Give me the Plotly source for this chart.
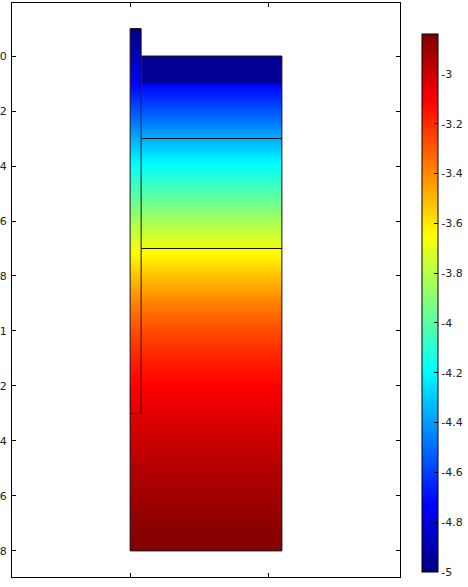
import plotly.graph_objects as go

# ---- data ----
# field value at depth knots (y, downward)
depth_knots = [-0.1, 0.0, 0.1, 0.2, 0.3, 0.4, 0.5, 0.6, 0.7, 0.8, 0.9,
               1.0, 1.1, 1.2, 1.3, 1.4, 1.5, 1.6, 1.7, 1.8]
knot_values = [-5.0, -4.87, -4.73, -4.55, -4.36, -4.18, -4.01, -3.84,
               -3.67, -3.52, -3.38, -3.27, -3.18, -3.11, -3.05, -3.00,
               -2.95, -2.91, -2.87, -2.84]
top_layer_value = -4.96          # uniform value of the upper layer (0 .. 0.1)

# geometry
well_x = [0.0, 0.04]             # narrow column
block_x = [0.04, 0.55]           # main block (right of column)
full_x = [0.0, 0.55]
well_top, well_bottom = -0.1, 1.3
block_top, block_bottom = 0.0, 1.8
layer_depths = [0.1, 0.3, 0.7]

# axes / colour bar
y_ticks = [0, 0.2, 0.4, 0.6, 0.8, 1, 1.2, 1.4, 1.6, 1.8]
y_ticktext = ["0", "0.2", "0.4", "0.6", "0.8", "1", "1.2", "1.4", "1.6", "1.8"]
x_ticks = [0, 0.5]
x_ticktext = ["0", "0.5"]
cbar_ticks = [-5, -4.8, -4.6, -4.4, -4.2, -4, -3.8, -3.6, -3.4, -3.2, -3]
cbar_text = ["-5", "-4.8", "-4.6", "-4.4", "-4.2", "-4", "-3.8", "-3.6",
             "-3.4", "-3.2", "-3"]
cmin, cmax = -5.0, -2.84

jet = [[0.0, "rgb(0,0,128)"], [0.125, "rgb(0,0,255)"],
       [0.375, "rgb(0,255,255)"], [0.625, "rgb(255,255,0)"],
       [0.875, "rgb(255,0,0)"], [1.0, "rgb(128,0,0)"]]

L, R, T, B = 12, 68, 3, 10
W, H = 468, 587
PW, PH = W - L - R, H - T - B


def sub_knots(y0, y1):
    idx = [i for i, d in enumerate(depth_knots)
           if y0 - 1e-9 <= d <= y1 + 1e-9]
    return [depth_knots[i] for i in idx], [knot_values[i] for i in idx]


def region(xr, y0, y1, vals=None, show=False):
    if vals is None:
        ys, v = sub_knots(y0, y1)
    else:
        ys, v = [y0, y1], vals
    z = [[val, val] for val in v]
    return go.Contour(
        x=list(xr), y=ys, z=z, colorscale=jet,
        zmin=cmin, zmax=cmax, zauto=False,
        contours=dict(coloring="heatmap", showlines=False),
        line=dict(width=0), ncontours=2,
        showscale=show, hoverinfo="skip",
        colorbar=dict(
            x=(422 - L) / PW, xanchor="left", xpad=0, ypad=0,
            y=1 - (303 - T) / PH, yanchor="middle",
            len=538, lenmode="pixels", thickness=16,
            outlinewidth=1, outlinecolor="black",
            tickvals=cbar_ticks, ticktext=cbar_text,
            ticks="inside", ticklen=4, tickcolor="black",
            tickfont=dict(family="DejaVu Sans", size=11, color="#222"),
        ) if show else None,
    )


fig = go.Figure()
# lower block drawn first, reaching one knot up so the seam is hidden
fig.add_trace(region(full_x, depth_knots[13], block_bottom, show=True))
fig.add_trace(region(well_x, well_top, well_bottom))
fig.add_trace(region(block_x, block_top, layer_depths[0],
                     vals=[top_layer_value, top_layer_value]))
fig.add_trace(region(block_x, layer_depths[0], well_bottom))

line_style = dict(color="#111", width=1)


def seg(xs, ys):
    fig.add_trace(go.Scatter(x=xs, y=ys, mode="lines", line=line_style,
                             hoverinfo="skip", showlegend=False))


# outlines
seg([well_x[0], well_x[0], well_x[1], well_x[1]],
    [block_bottom, well_top, well_top, well_bottom])
seg([well_x[0], well_x[1]], [well_bottom, well_bottom])
seg([block_x[0], block_x[1], block_x[1], full_x[0]],
    [block_top, block_top, block_bottom, block_bottom])
for d in layer_depths:
    seg([block_x[0], block_x[1]], [d, d])

axis_common = dict(showgrid=False, zeroline=False, showline=True,
                   linecolor="black", linewidth=1, mirror="ticks",
                   ticks="inside", ticklen=4, tickcolor="black",
                   automargin=False,
                   tickfont=dict(family="DejaVu Sans", size=11, color="#222"))

fig.update_layout(
    width=W, height=H,
    margin=dict(l=L, r=R, t=T, b=B, autoexpand=False),
    paper_bgcolor="white", plot_bgcolor="white",
    showlegend=False,
    xaxis=dict(range=[-0.428, 0.978], tickvals=x_ticks, ticktext=x_ticktext,
               ticklabelstandoff=5, **axis_common),
    yaxis=dict(range=[1.895, -0.193], tickvals=y_ticks, ticktext=y_ticktext,
               ticklabelstandoff=2, **axis_common),
)

fig.write_html("out.html", config={"displayModeBar": False},
               post_script="document.body.style.margin='0';")
